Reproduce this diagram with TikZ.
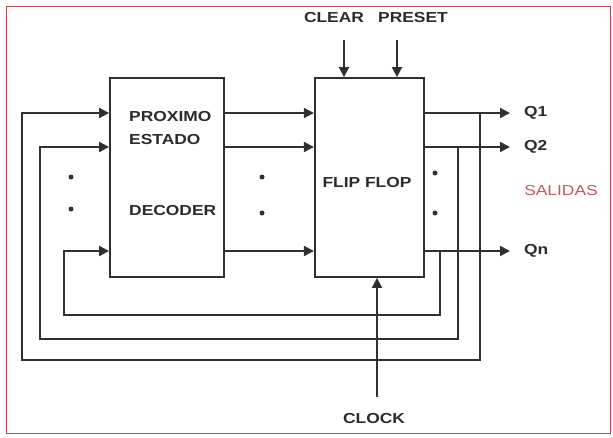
\documentclass[tikz,border=0pt]{standalone}
\usepackage{fontspec}
\setsansfont{Liberation Sans}[FakeStretch=1.2]
\usepackage{xcolor}
\definecolor{ink}{HTML}{2B2B2B}
\definecolor{wire}{HTML}{303030}
\definecolor{frame}{HTML}{B5474F}
\definecolor{salida}{HTML}{C9555F}
\usepackage{tikz}
\usetikzlibrary{positioning,arrows.meta}

\begin{document}
\begin{tikzpicture}[
  x=1pt,y=-1pt,
  font=\sffamily\bfseries\fontsize{14.5}{16}\selectfont,
  node distance=89pt,
  block/.style={draw=wire,line width=1.8pt,fill=white,
    minimum width=114pt,minimum height=199pt,inner sep=0pt},
  lbl/.style={text=ink,inner sep=0pt},
  wirepath/.style={draw=wire,line width=1.8pt},
  arrow/.style={wirepath,-{Triangle[length=10pt,width=10pt]}},
  dot/.style={circle,fill=wire,inner sep=0pt,minimum size=5pt}
]
\useasboundingbox (0,0) rectangle (613,437);
\draw[frame,line width=0.9pt] (6,6) rectangle (610,433);

% the two blocks
\node[block] (dec) at (167,177.5) {};
\node[block,minimum width=109pt,right=89pt of dec] (ff) {};

\node[lbl,anchor=west] (proximo) at (129,117) {PROXIMO};
\node[lbl,anchor=west] (estado) at (129,140) {ESTADO};
\node[lbl,anchor=west] (decoder) at (129,211) {DECODER};
\node[lbl] (fflabel) at (367,183) {FLIP FLOP};

% rows
\coordinate (r1) at (0,113);
\coordinate (r2) at (0,147);
\coordinate (rn) at (0,251);

% decoder to flip flop
\draw[arrow] (dec.east|-r1) -- (ff.west|-r1);
\draw[arrow] (dec.east|-r2) -- (ff.west|-r2);
\draw[arrow] (dec.east|-rn) -- (ff.west|-rn);

% outputs
\coordinate (o1) at (510,113);
\coordinate (o2) at (510,147);
\coordinate (on) at (510,251);
\draw[arrow] (ff.east|-r1) -- (o1);
\draw[arrow] (ff.east|-r2) -- (o2);
\draw[arrow] (ff.east|-rn) -- (on);
\node[lbl,anchor=west] (q1) at (524,113) {Q1};
\node[lbl,anchor=west] (q2) at (524,147) {Q2};
\node[lbl,anchor=west] (qn) at (524,251) {Qn};
\node[lbl,text=salida,font=\sffamily\fontsize{14.5}{16}\selectfont] (salidas) at (561,191) {SALIDAS};

% feedback loops
\coordinate (j1) at (480,113);
\coordinate (j2) at (458,147);
\coordinate (jn) at (440,251);
\coordinate (b1) at (22,360);
\coordinate (b2) at (40,339);
\coordinate (bn) at (64,315);
\draw[arrow] (j1) |- (b1) |- (dec.west|-r1);
\draw[arrow] (j2) |- (b2) |- (dec.west|-r2);
\draw[arrow] (jn) |- (bn) |- (dec.west|-rn);

% control inputs
\node[lbl] (clear) at (334,18) {CLEAR};
\node[lbl] (preset) at (413,18) {PRESET};
\node[lbl] (clock) at (374,418) {CLOCK};
\coordinate (clr) at (344,40);
\coordinate (pre) at (397,40);
\coordinate (clk) at (377,397);
\draw[arrow] (clr) -- (clr|-ff.north);
\draw[arrow] (pre) -- (pre|-ff.north);
\draw[arrow] (clk) -- (clk|-ff.south);

% dots
\foreach \px/\py in {71/177,71/209,262/177,262/213,435/173,435/213}
  \node[dot] at (\px,\py) {};

\end{tikzpicture}
\end{document}
